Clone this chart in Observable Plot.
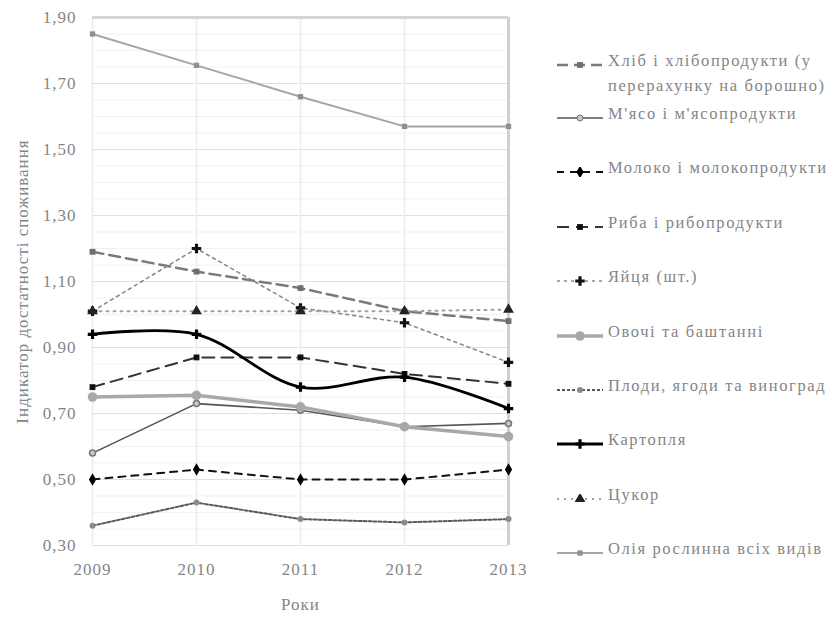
<!DOCTYPE html>
<html>
<head>
<meta charset="utf-8">
<script src="https://cdn.jsdelivr.net/npm/d3@7"></script>
<script src="https://cdn.jsdelivr.net/npm/@observablehq/plot@0.6"></script>
<style>
  html, body { margin: 0; padding: 0; background: #fff; }
  #wrap { position: relative; width: 839px; height: 617px; font-family: "Liberation Serif", serif; }
  #legend { position: absolute; left: 0; top: 0; width: 839px; height: 617px; pointer-events: none; }
  .item { position: absolute; left: 557px; display: flex; align-items: flex-start; }
  .item svg { flex: none; }
  .item span { font-size: 16.5px; color: #858585; line-height: 25px; letter-spacing: 1.6px; width: 230px; margin-left: 5px; margin-top: -12px; }
</style>
</head>
<body>
<div id="wrap"><div id="chart"></div><div id="legend"></div></div>
<script>
// ---- data ----
const years = [2009, 2010, 2011, 2012, 2013];
const seriesNames = [
  "Хліб і хлібопродукти (у перерахунку на борошно)",
  "М'ясо і м'ясопродукти",
  "Молоко і молокопродукти",
  "Риба і рибопродукти",
  "Яйця (шт.)",
  "Овочі та баштанні",
  "Плоди, ягоди та виноград",
  "Картопля",
  "Цукор",
  "Олія  рослинна всіх видів"
];
const khlib     = [1.19, 1.13, 1.08, 1.01, 0.98];
const miaso     = [0.58, 0.73, 0.71, 0.66, 0.67];
const moloko    = [0.50, 0.53, 0.50, 0.50, 0.53];
const ryba      = [0.78, 0.87, 0.87, 0.82, 0.79];
const yaitsia   = [1.01, 1.20, 1.02, 0.975, 0.855];
const ovochi    = [0.75, 0.755, 0.72, 0.66, 0.63];
const plody     = [0.36, 0.43, 0.38, 0.37, 0.38];
const kartoplia = [0.94, 0.94, 0.78, 0.81, 0.715];
const tsukor    = [1.01, 1.01, 1.01, 1.01, 1.015];
const oliia     = [1.85, 1.755, 1.66, 1.57, 1.57];
const yTicks = [0.30, 0.50, 0.70, 0.90, 1.10, 1.30, 1.50, 1.70, 1.90];

const values = [khlib, miaso, moloko, ryba, yaitsia, ovochi, plody, kartoplia, tsukor, oliia];

// ---- styles ----
const styles = [
  {stroke: "#7a7a7a", width: 2.5, dash: "11,6", curve: "linear", sym: "square", fill: "#6e6e6e", r: 3.3},
  {stroke: "#555555", width: 1.6, dash: null, curve: "linear", sym: "circle", fill: "#c8c8c8", r: 3},
  {stroke: "#111111", width: 2, dash: "7,6", curve: "linear", sym: "diamond", fill: "#000000", r: 3.8},
  {stroke: "#333333", width: 2, dash: "12,7", curve: "linear", sym: "square", fill: "#111111", r: 3.3},
  {stroke: "#8a8a8a", width: 1.6, dash: "3,4", curve: "linear", sym: "cross", fill: "#111111", r: 4},
  {stroke: "#a8a8a8", width: 3.5, dash: null, curve: "linear", sym: "circle", fill: "#a8a8a8", r: 4.8},
  {stroke: "#5a5a5a", width: 2, dash: "3,2", curve: "linear", sym: "circle", fill: "#8a8a8a", r: 3},
  {stroke: "#000000", width: 2.8, dash: null, curve: "catmull-rom", sym: "cross", fill: "#000000", r: 4},
  {stroke: "#a0a0a0", width: 2, dash: "2,5", curve: "linear", sym: "triangle", fill: "#222222", r: 4},
  {stroke: "#a6a6a6", width: 2, dash: null, curve: "linear", sym: "square", fill: "#909090", r: 3}
];

const table = seriesNames.flatMap((name, i) => years.map((yr, j) => ({name, year: yr, value: values[i][j]})));
const minor = d3.range(0.30, 1.9001, 0.05).map(v => +v.toFixed(2));

const marks = [
  Plot.ruleY(minor, {stroke: "#f1f1f1", strokeWidth: 1}),
  Plot.ruleY(yTicks, {stroke: "#e0e0e0", strokeWidth: 1.2}),
  Plot.ruleX(years, {stroke: "#ececec", strokeWidth: 1.5}),
  Plot.ruleY([yTicks[yTicks.length - 1]], {stroke: "#d6d6d6", strokeWidth: 3}),
  Plot.ruleX([years[years.length - 1]], {stroke: "#d0d0d0", strokeWidth: 3})
];
seriesNames.forEach((name, i) => {
  const s = styles[i];
  const data = table.filter(d => d.name === name);
  marks.push(Plot.line(data, {x: "year", y: "value", stroke: s.stroke, strokeWidth: s.width,
    strokeDasharray: s.dash, curve: s.curve}));
});
seriesNames.forEach((name, i) => {
  const s = styles[i];
  const data = table.filter(d => d.name === name);
  marks.push(Plot.dot(data, {x: "year", y: "value", symbol: () => s.sym, fill: s.fill,
    stroke: s.sym === "circle" && i === 1 ? "#777" : "none", r: s.r}));
});

const chart = Plot.plot({
  width: 839,
  height: 617,
  marginLeft: 92,
  marginRight: 331,
  marginTop: 17,
  marginBottom: 72,
  style: {fontFamily: "Liberation Serif, serif", fontSize: "17px", color: "#858585", background: "#fff"},
  symbol: {type: "identity"},
  x: {domain: [2009, 2013], ticks: years, tickFormat: d => String(d), tickSize: 0, tickPadding: 17,
      label: "Роки", labelAnchor: "center", labelOffset: 64, labelArrow: "none"},
  y: {domain: [0.30, 1.90], ticks: yTicks, tickFormat: d => d3.format(".2f")(d).replace(".", ","),
      tickSize: 0, tickPadding: 16, label: "Індикатор достатності споживання",
      labelAnchor: "center", labelOffset: 77, labelArrow: "none"},
  marks
});
chart.querySelectorAll("[aria-label$='tick label'] text, [aria-label$='label'] text").forEach(t => t.style.letterSpacing = "1px");
document.getElementById("chart").appendChild(chart);

// ---- legend ----
const legendTops = [65, 118, 172, 227, 281, 336, 390, 444, 499, 553];
const leg = document.getElementById("legend");
seriesNames.forEach((name, i) => {
  const s = styles[i];
  const item = document.createElement("div");
  item.className = "item";
  item.style.top = (legendTops[i] - 5) + "px";
  const svg = d3.create("svg").attr("width", 46).attr("height", 10);
  svg.append("line").attr("x1", 0).attr("x2", 46).attr("y1", 5).attr("y2", 5)
    .attr("stroke", s.stroke).attr("stroke-width", s.width)
    .attr("stroke-dasharray", s.dash ? s.dash : null);
  const symMap = {square: d3.symbolSquare, circle: d3.symbolCircle, diamond: d3.symbolDiamond,
    cross: d3.symbolCross, triangle: d3.symbolTriangle};
  svg.append("path").attr("transform", "translate(23,5)")
    .attr("d", d3.symbol(symMap[s.sym], Math.PI * s.r * s.r)())
    .attr("fill", s.fill).attr("stroke", i === 1 ? "#777" : "none");
  item.appendChild(svg.node());
  const span = document.createElement("span");
  span.textContent = name;
  item.appendChild(span);
  leg.appendChild(item);
});
</script>
</body>
</html>
